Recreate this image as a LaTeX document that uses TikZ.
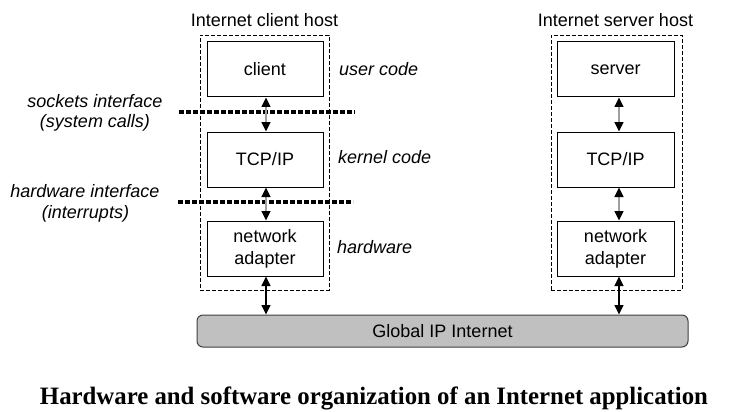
\documentclass[tikz,border=0pt]{standalone}
\usepackage{fontspec}
\usepackage{graphicx}
\setmainfont{Liberation Sans}
\newfontfamily\capfont{Liberation Serif}
\usetikzlibrary{arrows.meta,fit}
\definecolor{netgray}{HTML}{C0C0C0}
\definecolor{shaftgray}{HTML}{A0A0A0}
\tikzset{
  lay/.style={draw, line width=1pt, minimum height=55pt, inner sep=0pt, align=center,
    font=\fontsize{18}{22}\selectfont},
  hostbox/.style={draw, line width=0.8pt, dash pattern=on 4pt off 2pt, inner sep=0pt},
  tt/.style={font=\fontsize{18}{22}\selectfont, inner sep=0pt},
  it/.style={font=\fontsize{18}{22}\selectfont\itshape, inner sep=0pt},
  biarrow/.style={line width=1.4pt, {Triangle[length=9.5pt,width=9pt,color=black]}-{Triangle[length=9.5pt,width=9pt,color=black]}},
  dotline/.style={line width=4pt, dash pattern=on 5pt off 2pt}
}
\begin{document}
\begin{tikzpicture}[x=1pt,y=-1pt]
\path[use as bounding box, fill=white] (0,0) rectangle (745,412);

% host frames
\node[hostbox, fit={(200,35) (329,290)}] (chost) {};
\node[hostbox, fit={(551,35) (682,290)}] (shost) {};
\node[tt, anchor=base] (ctitle) at (264.5,27) {Internet client host};
\node[tt, anchor=base] (stitle) at (615.5,27) {Internet server host};

% client stack
\node[lay, minimum width=116pt] (cl) at (265,69.5) {client};
\node[lay, minimum width=116pt] (ctcp) at (265,159.5) {TCP/IP};
\node[lay, minimum width=116pt] (cad) at (265,248.5) {network\\adapter};

% server stack
\node[lay, minimum width=117pt] (sv) at (615.5,69.5) {server};
\node[lay, minimum width=117pt] (stcp) at (615.5,159.5) {TCP/IP};
\node[lay, minimum width=117pt] (sad) at (615.5,248.5) {network\\adapter};

% internet
\node[draw=black!75, line width=1pt, fill=netgray, rounded corners=6pt,
      minimum width=491pt, minimum height=32pt, inner sep=0pt,
      font=\fontsize{18}{22}\selectfont] (net) at (442.5,331) {Global IP Internet};

% interface lines
\coordinate (s1) at (179,112);
\coordinate (s2) at (355,112);
\coordinate (h1) at (178,202);
\coordinate (h2) at (353,202);
\draw[dotline] (s1) -- (s2);
\draw[dotline] (h1) -- (h2);

% arrows
\draw[biarrow, shaftgray] ([xshift=1pt]cl.south) -- ([xshift=1pt]ctcp.north);
\draw[biarrow, shaftgray] ([xshift=1pt]ctcp.south) -- ([xshift=1pt]cad.north);
\draw[biarrow] ([xshift=1pt]cad.south) -- ([xshift=1pt]cad.south |- net.north);
\draw[biarrow, shaftgray] ([xshift=3.5pt]sv.south) -- ([xshift=3.5pt]stcp.north);
\draw[biarrow, shaftgray] ([xshift=3.5pt]stcp.south) -- ([xshift=3.5pt]sad.north);
\draw[biarrow] ([xshift=3.5pt]sad.south) -- ([xshift=3.5pt]sad.south |- net.north);

% layer labels
\node[it, anchor=base west] (uc) at (339,76) {user code};
\node[it, anchor=base west] (kc) at (338,163) {kernel code};
\node[it, anchor=base west] (hw) at (337,253) {hardware};

% interface labels
\node[it, anchor=base] (si1) at (95,107) {sockets interface};
\node[it, anchor=base] (si2) at (95,128) {(system calls)};
\node[it, anchor=base] (hi1) at (85,197) {hardware interface};
\node[it, anchor=base] (hi2) at (85.5,218) {(interrupts)};

% caption
\node[anchor=base, inner sep=0pt] (cap) at (374,404)
  {\resizebox{668pt}{\height}{\capfont\bfseries\fontsize{25}{30}\selectfont Hardware and software organization of an Internet application}};
\end{tikzpicture}
\end{document}
